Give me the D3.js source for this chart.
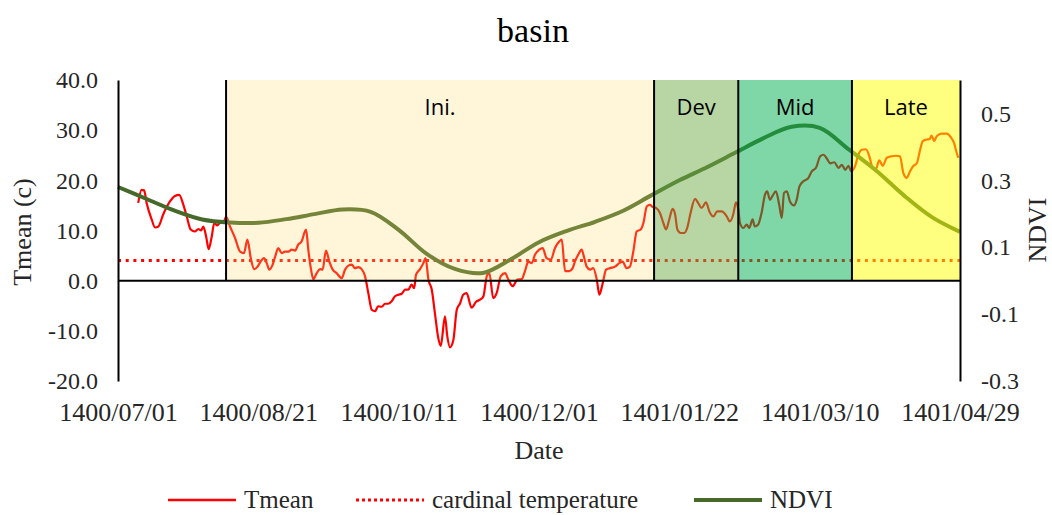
<!DOCTYPE html>
<html>
<head>
<meta charset="utf-8">
<script src="https://cdn.jsdelivr.net/npm/d3@7"></script>
<style>
  body { margin: 0; background: #fff; }
  svg { display: block; }
</style>
</head>
<body>
<svg id="chart"></svg>
<script>
var width = 1052;
var height = 515;

// day offsets counted from 1400/07/01
var tickDays = [0, 50, 100, 150, 200, 250, 300];
var tickLabels = ["1400/07/01", "1400/08/21", "1400/10/11", "1400/12/01", "1401/01/22", "1401/03/10", "1401/04/29"];

var leftTicks = [-20, -10, 0, 10, 20, 30, 40];
var rightTicks = [-0.3, -0.1, 0.1, 0.3, 0.5];

var cardinalTemp = 4;

// growth stages
var stageNames = ["Ini.", "Dev", "Mid", "Late"];
var stageStart = [38.5, 191, 221, 261.5];
var stageEnd = [191, 221, 261.5, 300];

// NDVI, read every 10 days
var ndviDay = [0, 10, 20, 30, 40, 50, 60, 70, 80, 90, 100, 110, 120, 130, 140, 150,
  160, 170, 180, 190, 200, 210, 220, 230, 240, 250, 260, 270, 280, 290, 300];
var ndviVal = [0.28, 0.245, 0.21, 0.183, 0.174, 0.173, 0.184, 0.199, 0.213, 0.206, 0.152,
  0.08, 0.035, 0.023, 0.064, 0.115, 0.149, 0.176, 0.209, 0.255, 0.3, 0.34, 0.383,
  0.426, 0.46, 0.457, 0.395, 0.33, 0.255, 0.19, 0.146];

// Tmean
var tmeanDay = [7.2, 8.4, 9.3, 10.2, 12.0, 13.2, 14.4, 16.1, 18.5, 20.3, 21.8, 23.3, 24.5, 25.9,
  27.4, 28.6, 29.6, 30.4, 31.4, 32.3, 33.4, 34.3, 35.4, 36.3, 37.5, 38.5, 39.9, 41.7, 43.5,
  44.9, 46.1, 47.3, 48.5, 49.6, 50.8, 52.0, 53.0, 53.9, 55.1, 56.0, 57.1, 58.3, 59.5, 60.7,
  61.9, 63.1, 64.2, 65.4, 67.0, 67.8, 68.7, 69.6, 70.8, 72.0, 72.9, 74.1, 75.3, 76.5, 77.9,
  79.7, 80.9, 82.1, 83.3, 84.4, 85.6, 86.8, 88.0, 89.2, 90.4, 91.6, 92.7, 94.0, 95.1, 96.3,
  97.5, 98.7, 99.9, 101.1, 102.3, 103.4, 104.6, 105.5, 106.2, 107.6, 108.8, 109.6, 110.6,
  111.8, 112.9, 114.1, 115.0, 116.5, 117.3, 118.3, 119.5, 120.7, 121.9, 123.0, 124.2, 126.0,
  127.6, 129.0, 130.2, 131.4, 132.3, 133.7, 134.9, 136.4, 137.9, 139.1, 140.6, 142.3, 143.8,
  145.0, 146.2, 147.4, 148.6, 150.1, 151.3, 152.7, 154.2, 155.7, 157.2, 158.1, 159.3, 160.8,
  162.0, 162.8, 164.0, 165.2, 166.0, 167.0, 168.2, 169.3, 170.6, 171.5, 172.7, 173.9, 175.3,
  177.1, 178.6, 179.8, 181.2, 182.4, 183.6, 184.8, 186.2, 187.2, 188.4, 189.5, 190.5, 191.7,
  193.1, 194.3, 195.3, 196.4, 197.6, 198.5, 199.3, 200.5, 201.7, 202.8, 204.0, 205.6, 206.7,
  207.9, 209.5, 210.7, 212.1, 213.5, 215.1, 216.9, 218.0, 219.2, 220.2, 221.0, 221.6, 222.8,
  224.0, 224.9, 226.1, 226.9, 228.1, 229.3, 230.5, 231.3, 232.3, 233.2, 234.4, 235.6, 236.5,
  237.3, 238.3, 239.4, 240.9, 241.8, 242.8, 244.2, 246.0, 247.2, 248.7, 250.2, 251.4, 252.6,
  253.8, 255.2, 256.7, 257.9, 259.1, 260.3, 261.2, 262.6, 263.8, 265.0, 266.5, 267.7, 268.9,
  270.1, 271.2, 272.5, 273.9, 275.7, 277.2, 278.6, 279.8, 281.0, 282.2, 283.3, 284.6, 285.8,
  286.7, 287.9, 289.1, 289.9, 290.8, 291.7, 293.5, 295.3, 296.7, 297.9, 298.8, 299.4];
var tmeanVal = [15.5, 18.1, 18.0, 15.5, 12.2, 10.6, 10.8, 13.2, 15.8, 16.9, 17.1, 15.1, 12.8, 10.2,
  9.8, 10.3, 10.0, 10.8, 8.8, 6.3, 8.8, 11.5, 11.0, 11.5, 11.5, 12.7, 10.8, 8.5, 5.8,
  5.5, 8.2, 4.5, 2.3, 2.7, 3.8, 4.5, 3.5, 2.2, 3.2, 4.8, 6.5, 5.5, 5.8, 5.8,
  6.2, 6.0, 7.2, 7.8, 10.2, 6.2, 2.5, 0.3, 1.5, 2.3, 2.2, 6.0, 3.8, 2.2, 1.5,
  0.5, 2.2, 3.0, 3.2, 2.5, 2.7, 2.3, 0.9, -2.5, -5.8, -6.1, -5.1, -5.2, -4.6, -4.6,
  -4.1, -3.1, -2.8, -2.6, -1.8, -1.8, -0.8, -1.5, 1.2, 2.3, 3.5, 4.5, 0.2,
  -1.8, -6.4, -11.4, -13.0, -7.1, -11.0, -13.3, -11.8, -5.8, -4.5, -2.8, -2.5, -5.4,
  -4.2, -3.8, -3.1, 0.9, 1.5, -3.5, -2.5, 0.9, 1.5, 0.2, -1.1, 0.2, 0.3,
  1.9, 3.8, 3.5, 5.2, 6.2, 6.5, 4.5, 4.2, 6.5, 7.8, 8.2, 1.9, 1.9,
  2.5, 3.8, 5.2, 6.2, 4.8, 2.8, 2.2, 2.5, 0.2, -2.8, -0.5, 2.2, 2.5,
  2.8, 3.5, 3.8, 2.5, 2.8, 5.8, 9.8, 10.2, 11.5, 14.8, 15.1, 14.7, 14.5,
  13.5, 11.5, 10.2, 12.2, 14.3, 13.2, 10.2, 9.5, 9.5, 10.5, 13.5, 16.3, 15.5,
  14.5, 15.6, 13.8, 12.8, 13.8, 13.8, 12.8, 11.8, 13.2, 15.6, 14.2, 11.5, 10.5,
  11.2, 10.5, 12.2, 10.8, 11.2, 13.5, 17.1, 17.8, 16.1, 16.9, 17.8, 15.1, 12.5,
  17.5, 17.8, 15.8, 15.0, 16.1, 18.8, 19.8, 20.5, 21.8, 22.5, 24.8, 25.1, 24.3,
  23.4, 23.6, 22.5, 23.1, 22.1, 22.9, 21.8, 22.8, 25.1, 26.1, 26.2, 24.8, 22.5,
  22.3, 24.0, 22.9, 24.5, 24.8, 24.9, 24.8, 21.5, 20.5, 21.8, 22.8, 23.4, 26.1,
  27.8, 28.1, 28.2, 28.9, 27.8, 28.8, 29.3, 29.3, 28.6, 27.4, 25.5, 24.5];

var serif = "'Liberation Serif', 'Times New Roman', serif";

var svg = d3.select("#chart").attr("width", width).attr("height", height);

var x = d3.scaleLinear().domain([0, 300]).range([118, 960]);
var yL = d3.scaleLinear().domain([-20, 40]).range([381, 80]);
var yR = d3.scaleLinear().domain([-0.3, 0.6]).range([381, 80]);

var tmean = tmeanDay.map(function(d, i) { return {d: d, v: tmeanVal[i]}; });
var ndvi = ndviDay.map(function(d, i) { return {d: d, v: ndviVal[i]}; });
var stages = stageNames.map(function(n, i) { return {name: n, s: stageStart[i], e: stageEnd[i]}; });

// stage fills sit on top of the lines (half transparent like the original)
var stageFill = {"Ini.": ["#FFD966", 0.25], "Dev": ["#70AD47", 0.5], "Mid": ["#00B050", 0.5], "Late": ["#FFFF00", 0.5]};

var lines = svg.append("g");

lines.append("line")
  .attr("x1", x(0)).attr("x2", x(300))
  .attr("y1", yL(cardinalTemp)).attr("y2", yL(cardinalTemp))
  .attr("stroke", "#ff0000")
  .attr("stroke-width", 3)
  .attr("stroke-dasharray", "3,4.7");

lines.append("path")
  .datum(tmean)
  .attr("fill", "none")
  .attr("stroke", "#ff0000")
  .attr("stroke-width", 2.2)
  .attr("d", d3.line().curve(d3.curveMonotoneX)
    .x(function(d) { return x(d.d); })
    .y(function(d) { return yL(d.v); }));

lines.append("path")
  .datum(ndvi)
  .attr("fill", "none")
  .attr("stroke", "#46692A")
  .attr("stroke-width", 4)
  .attr("d", d3.line().curve(d3.curveCatmullRom)
    .x(function(d) { return x(d.d); })
    .y(function(d) { return yR(d.v); }));

var st = svg.append("g");
st.selectAll("rect")
  .data(stages)
  .enter().append("rect")
  .attr("x", function(d) { return x(d.s); })
  .attr("width", function(d) { return x(d.e) - x(d.s); })
  .attr("y", yL(40))
  .attr("height", yL(0) - yL(40))
  .attr("fill", function(d) { return stageFill[d.name][0]; })
  .attr("fill-opacity", function(d) { return stageFill[d.name][1]; });

st.selectAll("line")
  .data(stages)
  .enter().append("line")
  .attr("x1", function(d) { return x(d.s); })
  .attr("x2", function(d) { return x(d.s); })
  .attr("y1", yL(40))
  .attr("y2", yL(0))
  .attr("stroke", "#000")
  .attr("stroke-width", 2);

st.selectAll("text")
  .data(stages)
  .enter().append("text")
  .attr("x", function(d) { return (x(d.s) + x(d.e)) / 2; })
  .attr("y", 115)
  .attr("text-anchor", "middle")
  .attr("font-family", "'Open Sans', sans-serif")
  .attr("font-size", 22)
  .attr("fill", "#000")
  .text(function(d) { return d.name; });

// zero line
svg.append("line")
  .attr("x1", x(0)).attr("x2", x(300))
  .attr("y1", yL(0)).attr("y2", yL(0))
  .attr("stroke", "#000")
  .attr("stroke-width", 2);

// axes
var axL = svg.append("g")
  .attr("transform", "translate(" + x(0) + ",0)")
  .call(d3.axisLeft(yL).tickValues(leftTicks).tickSize(0).tickPadding(20)
    .tickFormat(function(d) { return d.toFixed(1); }));

var axR = svg.append("g")
  .attr("transform", "translate(" + x(300) + ",0)")
  .call(d3.axisRight(yR).tickValues(rightTicks).tickSize(0).tickPadding(21)
    .tickFormat(function(d) { return d.toFixed(1); }));

var axB = svg.append("g")
  .attr("transform", "translate(0,381)")
  .call(d3.axisBottom(x).tickValues(tickDays).tickSize(0).tickPadding(22)
    .tickFormat(function(d, i) { return tickLabels[i]; }));
axB.select(".domain").remove();

[axL, axR].forEach(function(a) {
  a.select(".domain").attr("stroke", "#000").attr("stroke-width", 2);
});
axL.selectAll("text").attr("font-size", 24);
axR.selectAll("text").attr("font-size", 24);
axB.selectAll("text").attr("font-size", 26);
[axL, axR, axB].forEach(function(a) {
  a.attr("font-family", serif);
  a.selectAll("text").attr("fill", "#262626");
});

// titles
svg.append("text")
  .attr("x", 533).attr("y", 42)
  .attr("text-anchor", "middle")
  .attr("font-family", serif)
  .attr("font-size", 34)
  .text("basin");

svg.append("text")
  .attr("x", 539).attr("y", 459)
  .attr("text-anchor", "middle")
  .attr("font-family", serif)
  .attr("font-size", 26)
  .attr("fill", "#262626")
  .text("Date");

svg.append("text")
  .attr("transform", "translate(31,232) rotate(-90)")
  .attr("text-anchor", "middle")
  .attr("font-family", serif)
  .attr("font-size", 26)
  .attr("fill", "#262626")
  .text("Tmean (c)");

svg.append("text")
  .attr("transform", "translate(1046,230) rotate(-90)")
  .attr("text-anchor", "middle")
  .attr("font-family", serif)
  .attr("font-size", 26)
  .attr("fill", "#262626")
  .text("NDVI");

// legend
var legend = [
  {label: "Tmean", x: 168, color: "#ff0000", w: 2.5, dash: null},
  {label: "cardinal temperature", x: 356, color: "#ff0000", w: 3, dash: "3,3"},
  {label: "NDVI", x: 694, color: "#46692A", w: 4, dash: null}
];
var lg = svg.append("g").selectAll("g")
  .data(legend)
  .enter().append("g")
  .attr("transform", function(d) { return "translate(" + d.x + ",500)"; });
lg.append("line")
  .attr("x1", 0).attr("x2", 68)
  .attr("stroke", function(d) { return d.color; })
  .attr("stroke-width", function(d) { return d.w; })
  .attr("stroke-dasharray", function(d) { return d.dash; });
lg.append("text")
  .attr("x", 76).attr("y", 8)
  .attr("font-family", serif)
  .attr("font-size", 25)
  .attr("fill", "#262626")
  .text(function(d) { return d.label; });
</script>
</body>
</html>
